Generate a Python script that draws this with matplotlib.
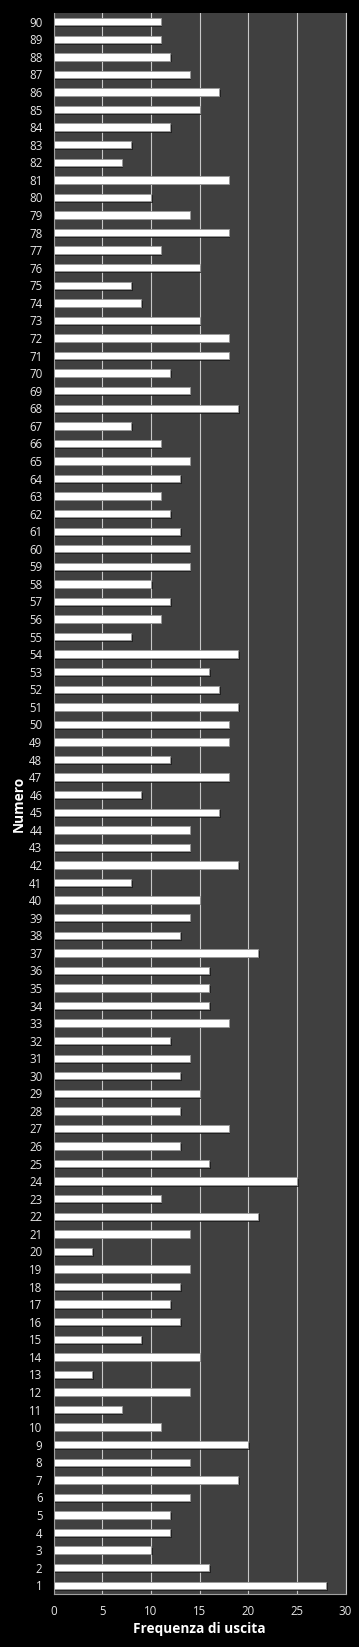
import matplotlib
matplotlib.use("Agg")
import matplotlib.pyplot as plt
import matplotlib.patheffects as pe

numeri = list(range(1, 91))
frequenze = [28, 16, 10, 12, 12, 14, 19, 14, 20, 11,
             7, 14, 4, 15, 9, 13, 12, 13, 14, 4,
             14, 21, 11, 25, 16, 13, 18, 13, 15, 13,
             14, 12, 18, 16, 16, 16, 21, 13, 14, 15,
             8, 19, 14, 14, 17, 9, 18, 12, 18, 18,
             19, 17, 16, 19, 8, 11, 12, 10, 14, 14,
             13, 12, 11, 13, 14, 11, 8, 19, 14, 12,
             18, 18, 15, 9, 8, 15, 11, 18, 14, 10,
             18, 7, 8, 12, 15, 17, 14, 12, 11, 11]
x_ticks = [0, 5, 10, 15, 20, 25, 30]
x_label = "Frequenza di uscita"
y_label = "Numero"

plt.rcParams['font.family'] = ['Open Sans', 'DejaVu Sans']

W, H = 359, 1647
fig = plt.figure(figsize=(W / 100, H / 100), dpi=100, facecolor='black')
left, right, top, bottom = 53.5, 345.5, 13, 1594
ax = fig.add_axes([left / W, 1 - bottom / H, (right - left) / W, (bottom - top) / H])
ax.set_facecolor('#404040')

bars = ax.barh(numeri, frequenze, height=0.42, color='white',
               edgecolor='#9a9a9a', linewidth=0.6, zorder=3)
for b in bars:
    b.set_path_effects([pe.SimplePatchShadow(offset=(1.2, -1.2), shadow_rgbFace='#1a1a1a', alpha=0.8),
                        pe.Normal()])

ax.set_xlim(0, 30)
ax.set_ylim(0.5, 90.5)
ax.set_xticks(x_ticks)
ax.set_yticks(numeri)
ax.set_yticklabels([str(n) for n in numeri])
ax.xaxis.grid(True, color='#c8c8c8', linewidth=0.8, zorder=1)
ax.yaxis.grid(False)
ax.set_axisbelow(True)

ax.spines['top'].set_visible(False)
ax.spines['right'].set_color('#c8c8c8')
ax.spines['right'].set_linewidth(0.8)
for s in ['left', 'bottom']:
    ax.spines[s].set_color('#a0a0a0')
    ax.spines[s].set_linewidth(0.8)

ax.tick_params(axis='both', length=0, colors='#e6e6e6', labelsize=8.3)
ax.tick_params(axis='y', pad=8)
ax.tick_params(axis='x', pad=8)

ax.set_xlabel(x_label, color='white', fontsize=9.8, fontweight='bold', labelpad=3)
ax.set_ylabel(y_label, color='white', fontsize=9.8, fontweight='bold', labelpad=2)

fig.savefig('out.png', dpi=100, facecolor='black')
